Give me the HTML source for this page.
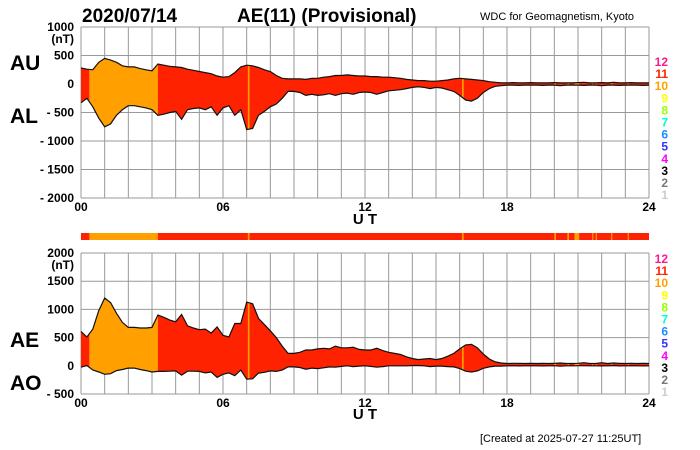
<!DOCTYPE html>
<html><head><meta charset="utf-8"><style>
body{margin:0;background:#fff;}
svg{display:block;font-family:"Liberation Sans",sans-serif;}
.b{font-weight:bold;}
</style></head><body>
<svg id="c" width="700" height="450" viewBox="0 0 700 450">
<text x="82" y="22" class="b" font-size="19">2020/07/14</text>
<text x="237" y="22" class="b" font-size="19">AE(11) (Provisional)</text>
<text x="480" y="20" font-size="11">WDC for Geomagnetism, Kyoto</text>
<text x="10" y="70" class="b" font-size="21">AU</text>
<text x="10" y="123" class="b" font-size="21">AL</text>
<text x="10" y="347" class="b" font-size="21">AE</text>
<text x="10" y="390" class="b" font-size="21">AO</text>
<text x="480" y="442" font-size="11">[Created at 2025-07-27 11:25UT]</text>
<g id="g"></g>
</svg>
<script>
const hours=[];for(let i=0;i<=96;i++)hours.push(i/4);
const AU=[280,260,250,380,450,420,380,320,300,300,270,250,230,350,330,310,300,290,260,240,220,200,180,140,120,130,200,300,330,320,290,250,220,150,100,90,90,90,80,100,100,120,130,150,150,160,150,140,140,130,130,120,120,110,100,80,70,60,60,50,50,60,70,90,100,90,80,70,60,40,30,20,20,25,20,20,25,20,20,20,25,20,20,20,25,30,20,20,25,20,30,20,20,25,20,20,20];
const AL=[-330,-250,-400,-600,-750,-700,-550,-450,-380,-380,-400,-420,-450,-550,-530,-500,-480,-620,-450,-430,-420,-450,-400,-550,-420,-380,-550,-450,-800,-780,-550,-480,-400,-350,-250,-130,-130,-150,-200,-180,-200,-190,-170,-200,-170,-160,-180,-150,-140,-150,-180,-150,-120,-110,-100,-80,-60,-50,-60,-80,-60,-70,-100,-130,-200,-280,-300,-250,-150,-80,-40,-30,-20,-20,-25,-20,-20,-20,-25,-20,-20,-30,-20,-20,-20,-25,-20,-20,-30,-20,-20,-25,-20,-20,-20,-25,-20];
const AE=AU.map((v,i)=>v-AL[i]);
const AO=AU.map((v,i)=>(v+AL[i])/2);
const orangeStart=[0.35,7.05,16.1,20.0,20.55,20.85,21.6,21.75,22.4,23.1];
const orangeEnd=[3.25,7.12,16.17,20.07,20.62,21.05,21.65,21.8,22.45,23.15];
const xTicks=["00","06","12","18","24"];
const topTicks=[1000,500,0,-500,-1000,-1500,-2000];
const botTicks=[2000,1500,1000,500,0,-500];
const legendNums=[12,11,10,9,8,7,6,5,4,3,2,1];
const legendCols=["#ff1a8c","#ff2200","#ffa000","#ffff00","#99ff00","#00ffcc","#1e8cff","#3333ff","#ff00ff","#000","#777","#ccc"];
const RED="#ff2200",ORG="#ffa000";
const X0=81,X1=649;
const x=h=>X0+(X1-X0)*h/24;
const NS="http://www.w3.org/2000/svg";
const g=document.getElementById('g');
function mk(t,a,p){const e=document.createElementNS(NS,t);for(const k in a)e.setAttribute(k,a[k]);(p||g).appendChild(e);return e;}
function panel(id,yTop,yBot,vMax,vMin,ticks,upper,lower,legTop,utY){
  const y=v=>yTop+(vMax-v)*(yBot-yTop)/(vMax-vMin);
  const grid=mk('g',{});
  
  
  for(let h=0;h<=24;h++)mk('line',{x1:x(h),x2:x(h),y1:yTop,y2:yBot,stroke:'#999','stroke-width':1},grid);
  ticks.forEach(v=>{mk('line',{x1:X0,x2:X1,y1:y(v),y2:y(v),stroke:'#999','stroke-width':1},grid);
    const t=mk('text',{x:74,y:y(v)+4,'text-anchor':'end','font-size':12,'font-weight':'bold'});
    t.textContent=(v<0?'- '+(-v):v);
    
    });
  const nt=mk('text',{x:74,y:y(ticks[0])+16,'text-anchor':'end','font-size':12,'font-weight':'bold'});nt.textContent='(nT)';
  
  
  let d='M'+x(hours[0])+','+y(upper[0]);
  hours.forEach((h,i)=>d+=' L'+x(h).toFixed(1)+','+y(upper[i]).toFixed(1));
  for(let i=hours.length-1;i>=0;i--)d+=' L'+x(hours[i]).toFixed(1)+','+y(lower[i]).toFixed(1);
  d+='Z';
  const area=mk('path',{d:d,fill:RED});
  
  
  const cp=mk('clipPath',{id:id+'clip'});
  orangeStart.forEach((s,i)=>mk('rect',{x:x(s),y:yTop,width:x(orangeEnd[i])-x(s),height:yBot-yTop},cp));
  const oa=mk('path',{d:d,fill:ORG,'clip-path':'url(#'+id+'clip)'});
  
  
  let du='',dl='';
  hours.forEach((h,i)=>{du+=(i?' L':'M')+x(h).toFixed(1)+','+y(upper[i]).toFixed(1);dl+=(i?' L':'M')+x(h).toFixed(1)+','+y(lower[i]).toFixed(1);});
  const lu=mk('path',{d:du,fill:'none',stroke:'#111','stroke-width':1.2});
  
  
  const ll=mk('path',{d:dl,fill:'none',stroke:'#111','stroke-width':1.2});
  
  
  xTicks.forEach((t,i)=>{const e=mk('text',{x:x(i*6),y:yBot+13,'text-anchor':'middle','font-size':12,'font-weight':'bold'});e.textContent=t;
    
    });
  const ut=mk('text',{x:365,y:utY,'text-anchor':'middle','font-size':15,'font-weight':'bold'});ut.textContent='U T';
  
  
  legendNums.forEach((n,i)=>{const e=mk('text',{x:668,y:legTop+i*12.1,'text-anchor':'end','font-size':12,'font-weight':'bold',fill:legendCols[i]});e.textContent=n;
    
    });
}
panel('au-al',27,198,1000,-2000,topTicks,AU,AL,66,224);
panel('ae-ao',253,394,2000,-500,botTicks,AE,AO,263,419);
const bar=mk('rect',{x:X0,y:233,width:X1-X0,height:7,fill:RED});


orangeStart.forEach((s,i)=>{const r=mk('rect',{x:x(s),y:233,width:x(orangeEnd[i])-x(s),height:7,fill:ORG});
  
  });
</script>
</body></html>
